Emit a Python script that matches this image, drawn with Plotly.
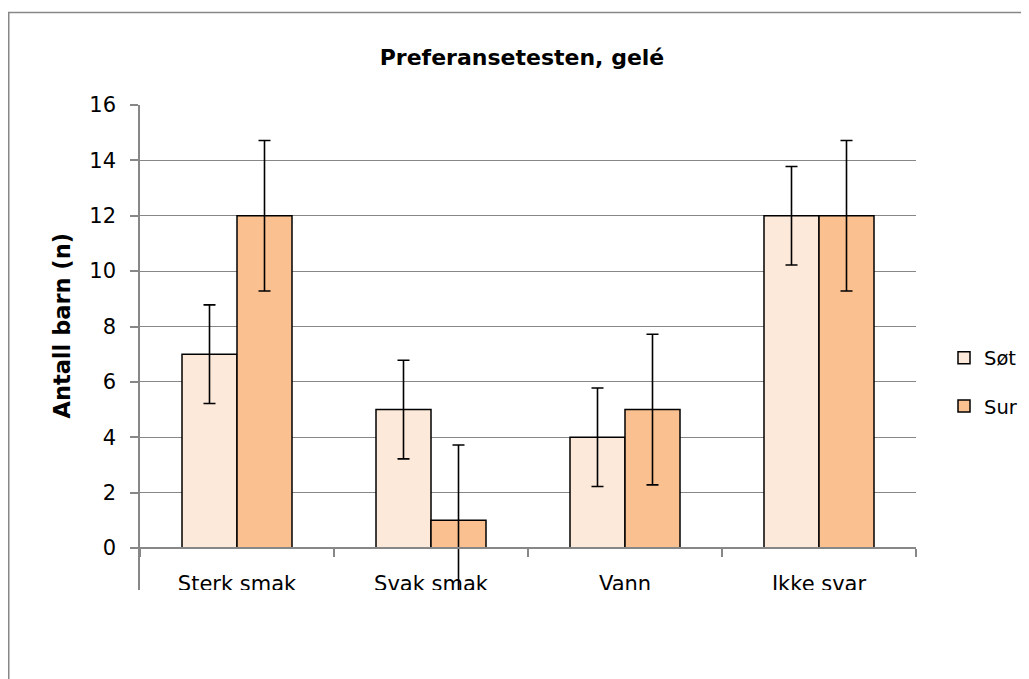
import plotly.graph_objects as go

categories = ["Sterk smak", "Svak smak", "Vann", "Ikke svar"]
sot_values = [7, 5, 4, 12]
sur_values = [12, 1, 5, 12]
sot_err = [1.78, 1.78, 1.78, 1.78]
sur_err = [2.72, 2.72, 2.72, 2.72]

FONT = "DejaVu Sans"
GRAY = "#878787"

# page has an 8px body margin: figure occupies 8..1029 x 8..679 of the screen
OFF = 8
SCR_W, SCR_H = 1029, 679
PL, PR, PT, PB = 140, 916, 105, 600      # plot area on screen (PB below zero line)
ZERO = 548                                # screen y of value 0
W, H = SCR_W - OFF, SCR_H - OFF
L, R, T, B = PL - OFF, SCR_W - PR, PT - OFF, SCR_H - PB
pw, ph = PR - PL, PB - PT

YMAX = 16
ymin = -(PB - ZERO) * YMAX / (ZERO - PT)


def px_x(p):  # screen pixel -> paper x
    return (p - PL) / pw


def px_y(p):  # screen pixel -> paper y
    return (PB - p) / ph


fig = go.Figure()
fig.add_trace(go.Bar(
    x=categories, y=sot_values, name="Søt", legendgroup="a",
    marker=dict(color="#FDE9D9", line=dict(color="#000000", width=1.5)),
    error_y=dict(type="data", array=sot_err, color="#000000", thickness=1.6, width=6),
))
fig.add_trace(go.Bar(
    x=categories, y=sur_values, name="Sur", legendgroup="b",
    marker=dict(color="#FAC090", line=dict(color="#000000", width=1.5)),
    error_y=dict(type="data", array=sur_err, color="#000000", thickness=1.6, width=6),
))

fig.update_layout(
    width=W, height=H,
    margin=dict(l=L, r=R, t=T, b=B, autoexpand=False),
    paper_bgcolor="white", plot_bgcolor="white",
    font=dict(family=FONT, color="#000000", size=21),
    barmode="group", bargap=0.433, bargroupgap=0,
    title=dict(text="<b>Preferansetesten, gelé</b>", x=(522 - OFF) / W, xanchor="center",
               y=1 - (57 - OFF) / H, yanchor="middle", font=dict(size=22, family=FONT)),
    showlegend=True,
    legend=dict(x=px_x(944), y=px_y(382), xanchor="left", yanchor="middle",
                font=dict(size=19.5, family=FONT), traceorder="grouped",
                tracegroupgap=20, itemwidth=30, bgcolor="rgba(0,0,0,0)"),
    xaxis=dict(anchor="free", position=px_y(ZERO),
               showline=True, linecolor=GRAY, linewidth=1.5, ticks="outside",
               tickson="boundaries", ticklen=8, tickcolor=GRAY, tickwidth=1.5,
               showgrid=False, tickfont=dict(size=21, family=FONT),
               ticklabelstandoff=17, automargin=False),
    yaxis=dict(range=[ymin, YMAX], tick0=0, dtick=2, showline=True, linecolor=GRAY,
               linewidth=1.5, ticks="outside", ticklen=8, tickcolor=GRAY, tickwidth=1.5,
               showgrid=True, gridcolor=GRAY, gridwidth=1.2, zeroline=False,
               tickfont=dict(size=21, family=FONT), ticklabelstandoff=10,
               automargin=False),
)

# y-axis title, centred on the 0..16 value span
fig.add_annotation(text="<b>Antall barn (n)</b>", textangle=-90, showarrow=False,
                   xref="paper", yref="paper", x=px_x(61), y=px_y((ZERO + PT) / 2),
                   xanchor="center", yanchor="middle",
                   font=dict(size=22.5, family=FONT, color="#000000"))

# white cover clipping the lower part of the chart area
fig.add_shape(type="rect", xref="paper", yref="paper",
              x0=px_x(9.6), x1=px_x(1040), y0=px_y(700), y1=px_y(590),
              fillcolor="white", line=dict(width=0), layer="above")
# outer chart border
fig.add_shape(type="rect", xref="paper", yref="paper",
              x0=px_x(8.75), x1=px_x(1040), y0=px_y(700), y1=px_y(12.5),
              fillcolor="rgba(0,0,0,0)", line=dict(color=GRAY, width=1.5), layer="above")

fig.write_html("out.html")
